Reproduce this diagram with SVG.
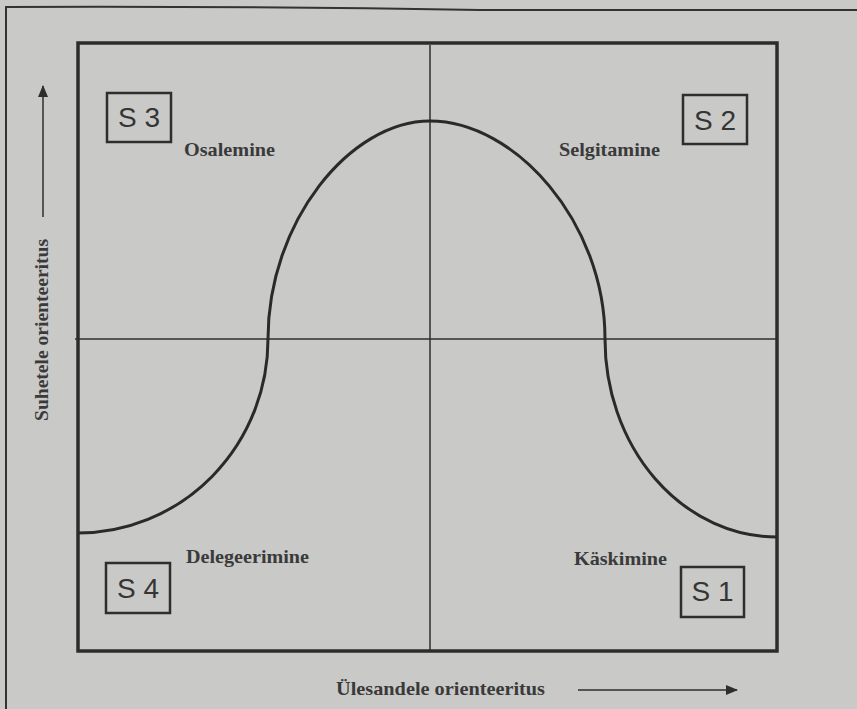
<svg xmlns="http://www.w3.org/2000/svg" width="857" height="709" viewBox="0 0 857 709">
  <defs>
    <marker id="arrow" viewBox="0 0 12 10" refX="11" refY="5" markerWidth="12" markerHeight="10" markerUnits="userSpaceOnUse" orient="auto">
      <path d="M0,0 L12,5 L0,10 Z" fill="#2e2e2e"/>
    </marker>
  </defs>
  <style>
    .bg { fill: #c9c9c7; }
    .frame { fill: none; stroke: #2c2c2c; stroke-width: 3.5; }
    .outer { fill: none; stroke: #333; stroke-width: 2; }
    .axis { fill: none; stroke: #2e2e2e; stroke-width: 1.5; }
    .curve { fill: none; stroke: #2a2a2a; stroke-width: 3; }
    .sbox { fill: none; stroke: #2e2e2e; stroke-width: 2.5; }
    .slabel { font-family: "Liberation Sans", Arial, sans-serif; font-size: 28px; fill: #353535; text-anchor: middle; }
    .label { font-family: "Liberation Serif", "Times New Roman", serif; font-weight: bold; font-size: 19.5px; fill: #3a3a3a; }
  </style>
  <rect class="bg" x="0" y="0" width="857" height="709"/>
  <path class="outer" d="M6,709 L6,7 Q240,6 480,10 L857,10"/>

  <g id="frame">
    <rect class="frame" x="78" y="43" width="699" height="608"/>
  </g>

  <g id="connectors">
    <line class="axis" x1="430" y1="45" x2="430" y2="650"/>
    <line class="axis" x1="75" y1="339" x2="777" y2="339"/>
    <line class="axis" x1="43" y1="217" x2="43" y2="86" marker-end="url(#arrow)"/>
    <line class="axis" x1="578" y1="690" x2="737" y2="690" marker-end="url(#arrow)"/>
  </g>

  <g id="curve">
    <path class="curve" d="M78,533 A190,194 0 0 0 268,339 C268,222 350,121 430,121 C515,121 605,222 605,339 A172,198 0 0 0 777,537"/>
  </g>

  <g id="s3">
    <rect class="sbox" x="107" y="93" width="64" height="49"/>
    <text class="slabel" x="139" y="127">S 3</text>
  </g>
  <g id="s2">
    <rect class="sbox" x="683" y="95" width="64" height="49"/>
    <text class="slabel" x="715" y="130">S 2</text>
  </g>
  <g id="s4">
    <rect class="sbox" x="106" y="563" width="64" height="50"/>
    <text class="slabel" x="138" y="598">S 4</text>
  </g>
  <g id="s1">
    <rect class="sbox" x="681" y="567" width="63" height="50"/>
    <text class="slabel" x="712.5" y="601">S 1</text>
  </g>

  <g id="osalemine">
    <text class="label" x="184" y="156" textLength="91" lengthAdjust="spacingAndGlyphs">Osalemine</text>
  </g>
  <g id="selgitamine">
    <text class="label" x="559" y="156" textLength="101" lengthAdjust="spacingAndGlyphs">Selgitamine</text>
  </g>
  <g id="delegeerimine">
    <text class="label" x="186" y="563" textLength="123" lengthAdjust="spacingAndGlyphs">Delegeerimine</text>
  </g>
  <g id="kaskimine">
    <text class="label" x="574" y="565" textLength="93" lengthAdjust="spacingAndGlyphs">Käskimine</text>
  </g>
  <g id="x-axis-label">
    <text class="label" x="336" y="695" textLength="209" lengthAdjust="spacingAndGlyphs">Ülesandele orienteeritus</text>
  </g>
  <g id="y-axis-label">
    <text class="label" transform="translate(48,330) rotate(-90)" x="0" y="0" text-anchor="middle" textLength="182" lengthAdjust="spacingAndGlyphs">Suhetele orienteeritus</text>
  </g>
</svg>
